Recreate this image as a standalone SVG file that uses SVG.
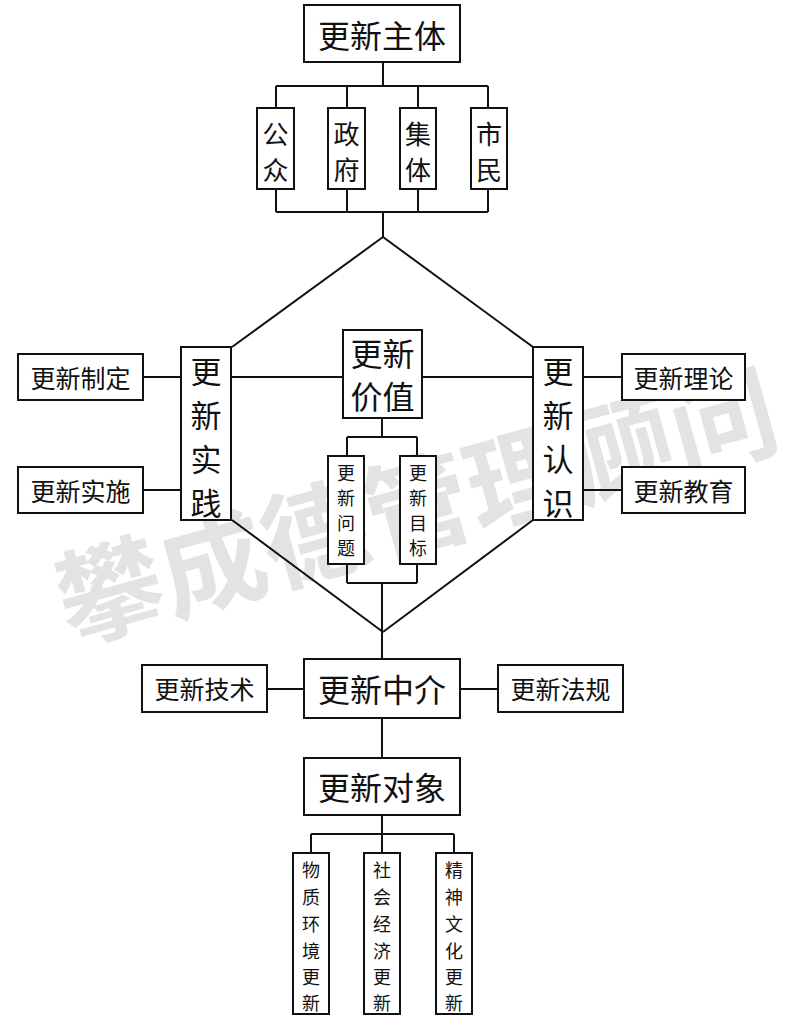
<svg xmlns="http://www.w3.org/2000/svg" width="800" height="1036" viewBox="0 0 800 1036">
<style>
.box{fill:#fff;stroke:#111;stroke-width:2}
.ln{fill:none;stroke:#111;stroke-width:2}
text{font-family:"Noto Sans CJK SC","Noto Sans CJK JP",sans-serif;fill:#111;text-anchor:middle;dominant-baseline:central}
.xl{font-size:32px}
.l{font-size:25px}
.m{font-size:26px}
.v{font-size:31px}
.s{font-size:18px}
.wm{font-size:106px;font-weight:bold;fill:#e3e3e3}
</style>
<rect width="800" height="1036" fill="#fff"/>
<text class="wm" transform="translate(415,500) rotate(-15.5)">攀成德管理顾问</text>
<g id="connectors">
<path class="ln" d="M383 62V86M276 86H488M276 86V108M347 86V108M418 86V108M488 86V108"/>
<path class="ln" d="M276 189V212M347 189V212M418 189V212M488 189V212M276 212H488M383 212V237"/>
<path class="ln" d="M383 237L232 347M383 237L533 347M232 520L383 632M533 520L383 632"/>
<path class="ln" d="M143 377H181M143 490H181M231 377H343M422 377H533M583 377H622M583 490H622"/>
<path class="ln" d="M382 418V437M347 437H417M347 437V456M417 437V456M347 564V583M417 564V583M347 583H417M382 583V659"/>
<path class="ln" d="M267 689H304M460 689H498M382 718V758M382 815V834M311 834H454M311 834V853M382 834V853M454 834V853"/>
</g>
<g id="n-zhuti"><rect class="box" x="304" y="5" width="156" height="57"/><text class="xl" x="382" y="34">更新主体</text></g>
<g id="n-gongzhong"><rect class="box" x="257" y="108" width="37" height="81"/><text class="m" x="275.5"><tspan x="275.5" y="132">公</tspan><tspan x="275.5" y="168">众</tspan></text></g>
<g id="n-zhengfu"><rect class="box" x="328" y="108" width="37" height="81"/><text class="m" x="346.5"><tspan x="346.5" y="132">政</tspan><tspan x="346.5" y="168">府</tspan></text></g>
<g id="n-jiti"><rect class="box" x="400" y="108" width="36" height="81"/><text class="m" x="418"><tspan x="418" y="132">集</tspan><tspan x="418" y="168">体</tspan></text></g>
<g id="n-shimin"><rect class="box" x="471" y="108" width="36" height="81"/><text class="m" x="489"><tspan x="489" y="132">市</tspan><tspan x="489" y="168">民</tspan></text></g>
<g id="n-zhiding"><rect class="box" x="18" y="354" width="125" height="46"/><text class="l" x="80.5" y="377">更新制定</text></g>
<g id="n-shishi"><rect class="box" x="18" y="467" width="125" height="46"/><text class="l" x="80.5" y="490">更新实施</text></g>
<g id="n-shijian"><rect class="box" x="181" y="347" width="50" height="173"/><text class="v"><tspan x="206" y="369">更</tspan><tspan x="206" y="413">新</tspan><tspan x="206" y="457">实</tspan><tspan x="206" y="501">践</tspan></text></g>
<g id="n-jiazhi"><rect class="box" x="343" y="330" width="79" height="88"/><text class="xl"><tspan x="382.5" y="352">更新</tspan><tspan x="382.5" y="395">价值</tspan></text></g>
<g id="n-renshi"><rect class="box" x="533" y="347" width="50" height="173"/><text class="v"><tspan x="558" y="369">更</tspan><tspan x="558" y="413">新</tspan><tspan x="558" y="457">认</tspan><tspan x="558" y="501">识</tspan></text></g>
<g id="n-lilun"><rect class="box" x="622" y="354" width="123" height="46"/><text class="l" x="683.5" y="377">更新理论</text></g>
<g id="n-jiaoyu"><rect class="box" x="622" y="467" width="123" height="46"/><text class="l" x="683.5" y="490">更新教育</text></g>
<g id="n-wenti"><rect class="box" x="328" y="456" width="36" height="108"/><text class="s"><tspan x="346" y="472">更</tspan><tspan x="346" y="497">新</tspan><tspan x="346" y="522">问</tspan><tspan x="346" y="547">题</tspan></text></g>
<g id="n-mubiao"><rect class="box" x="400" y="456" width="36" height="108"/><text class="s"><tspan x="418" y="472">更</tspan><tspan x="418" y="497">新</tspan><tspan x="418" y="522">目</tspan><tspan x="418" y="547">标</tspan></text></g>
<g id="n-jishu"><rect class="box" x="142" y="665" width="125" height="47"/><text class="l" x="204.5" y="688">更新技术</text></g>
<g id="n-zhongjie"><rect class="box" x="304" y="659" width="156" height="59"/><text class="xl" x="382" y="688">更新中介</text></g>
<g id="n-fagui"><rect class="box" x="498" y="665" width="125" height="47"/><text class="l" x="560.5" y="688">更新法规</text></g>
<g id="n-duixiang"><rect class="box" x="304" y="758" width="156" height="57"/><text class="xl" x="382" y="786">更新对象</text></g>
<g id="n-wuzhi"><rect class="box" x="293" y="853" width="36" height="161"/><text class="s"><tspan x="311" y="869">物</tspan><tspan x="311" y="896">质</tspan><tspan x="311" y="923">环</tspan><tspan x="311" y="950">境</tspan><tspan x="311" y="976">更</tspan><tspan x="311" y="1002">新</tspan></text></g>
<g id="n-shehui"><rect class="box" x="364" y="853" width="36" height="161"/><text class="s"><tspan x="382" y="869">社</tspan><tspan x="382" y="896">会</tspan><tspan x="382" y="923">经</tspan><tspan x="382" y="950">济</tspan><tspan x="382" y="976">更</tspan><tspan x="382" y="1002">新</tspan></text></g>
<g id="n-jingshen"><rect class="box" x="436" y="853" width="36" height="161"/><text class="s"><tspan x="454" y="869">精</tspan><tspan x="454" y="896">神</tspan><tspan x="454" y="923">文</tspan><tspan x="454" y="950">化</tspan><tspan x="454" y="976">更</tspan><tspan x="454" y="1002">新</tspan></text></g>
</svg>
